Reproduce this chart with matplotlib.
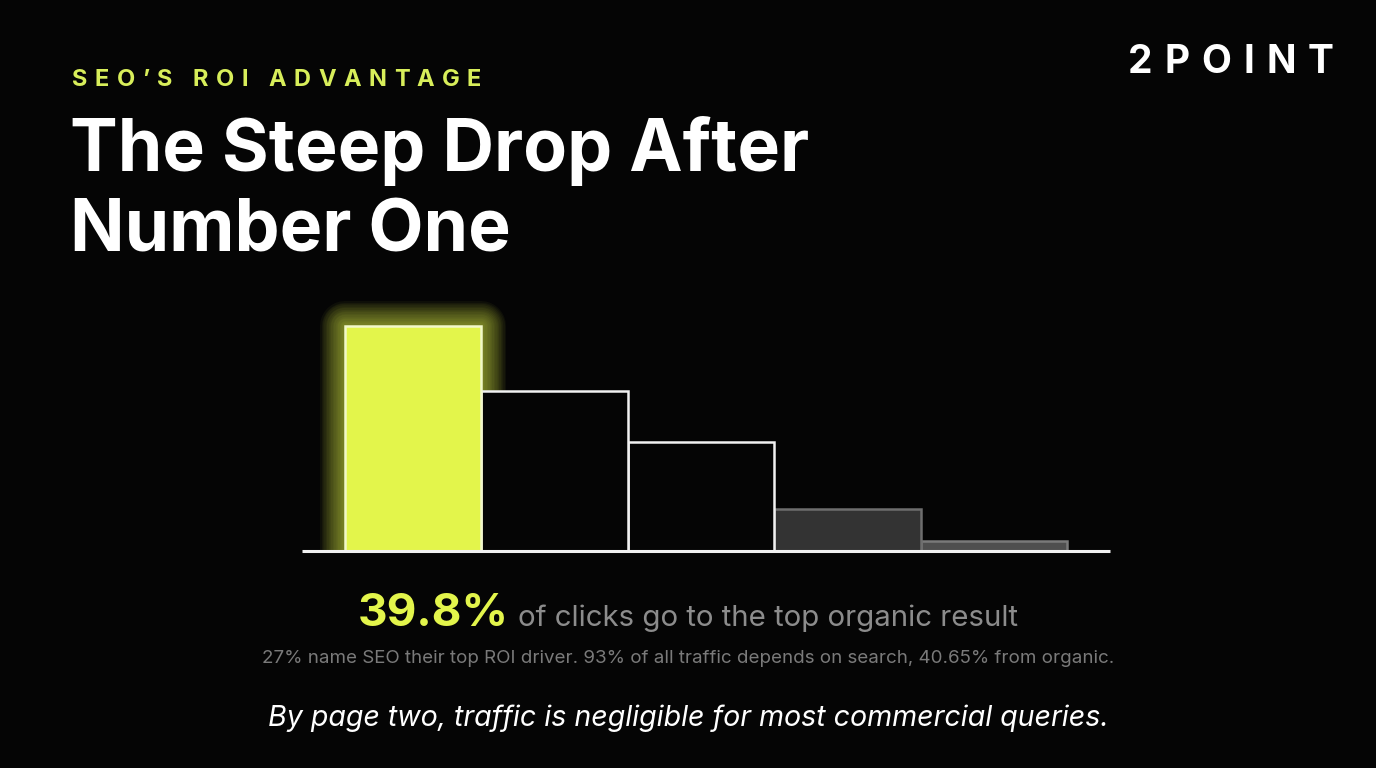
import matplotlib.pyplot as plt
from matplotlib.patches import Rectangle

# data
positions = ['1', '2', '3', '4', '5']
ctr = [39.8, 28.3, 19.3, 7.4, 1.8]
bar_fill = ['#e3f54b', '#050505', '#050505', '#333333', '#4f4f4f']
bar_edge = ['#f2f8c8', '#f2f2f2', '#f2f2f2', '#6e6e6e', '#7a7a7a']
kicker = "SEO\u2019S ROI ADVANTAGE"
title_lines = ['The Steep Drop After', 'Number One']
brand = '2POINT'
headline_num = '39.8%'
headline_rest = 'of clicks go to the top organic result'
subline = '27% name SEO their top ROI driver. 93% of all traffic depends on search, 40.65% from organic.'
footer = 'By page two, traffic is negligible for most commercial queries.'

BG = '#050505'
YEL = '#e3f54b'
W, H = 1376, 768

plt.rcParams['font.family'] = ['Inter', 'DejaVu Sans']
fig = plt.figure(figsize=(13.76, 7.68), dpi=100, facecolor=BG)
renderer = fig.canvas.get_renderer()


def spaced(text, x, y, spacing, **kw):
    # draw text one glyph at a time to get letter spacing (pixel coords)
    for ch in text:
        t = fig.text(x / W, 1 - y / H, ch, va='baseline', ha='left', **kw)
        w = t.get_window_extent(renderer).width
        if ch == ' ':
            w = kw.get('fontsize', 12) * 0.35
        x += w + spacing


# bars
ax = fig.add_axes([302 / W, 1 - 551 / H, (1110 - 302) / W, 251 / H])
ax.set_facecolor('none')
unit = 146.5
x0 = 334.5
ax.set_xlim((302 - x0) / unit, (1110 - x0) / unit)
ax.set_ylim(0, ctr[0] * 251 / 225)
ax.axis('off')

lefts = [(345 - x0) / unit, 1, 2, 3, 4]
widths = [(481 - 345) / unit, 1, 1, 1, 1]

# glow behind the top result
for lw in range(36, 1, -2):
    ax.add_patch(Rectangle((lefts[0], 0), widths[0], ctr[0], fill=False,
                           edgecolor=YEL, linewidth=lw, alpha=0.045,
                           joinstyle='round', zorder=1))

for i in range(len(ctr)):
    ax.add_patch(Rectangle((lefts[i], 0), widths[i], ctr[i],
                           facecolor=bar_fill[i], edgecolor=bar_edge[i],
                           linewidth=1.8, zorder=2 + (len(ctr) - i) * 0.01))

ax.plot([(302 - x0) / unit, (1110 - x0) / unit], [0, 0], color='#f2f2f2',
        lw=2.2, zorder=5, solid_capstyle='butt', clip_on=False)

# header
spaced(kicker, 72, 86, 7.4, fontsize=17, fontweight='bold', color='#d8ee5a')
fig.text(70 / W, 1 - 171 / H, title_lines[0], fontsize=51.5, fontweight='bold',
         color='white', va='baseline', ha='left')
fig.text(70 / W, 1 - 251 / H, title_lines[1], fontsize=51.5, fontweight='bold',
         color='white', va='baseline', ha='left')
spaced(brand, 1128, 73, 12, fontsize=28, fontweight='bold', color='white')

# headline centred under the chart
t1 = fig.text(0, 0, headline_num, fontsize=33, fontweight='bold', color=YEL,
              va='baseline', ha='left')
t2 = fig.text(0, 0, headline_rest, fontsize=21.2, color='#8c8c8c',
              va='baseline', ha='left')
w1 = t1.get_window_extent(renderer).width
w2 = t2.get_window_extent(renderer).width
gap = 10
start = (W - (w1 + gap + w2)) / 2
t1.set_position((start / W, 1 - 626 / H))
t2.set_position(((start + w1 + gap) / W, 1 - 626 / H))

fig.text(0.5, 1 - 663 / H, subline, fontsize=13.5, color='#7a7a7a',
         va='baseline', ha='center')
fig.text(0.5, 1 - 726 / H, footer, fontsize=20.6, style='italic',
         color='white', va='baseline', ha='center')

fig.savefig('out.png', dpi=100, facecolor=BG)
